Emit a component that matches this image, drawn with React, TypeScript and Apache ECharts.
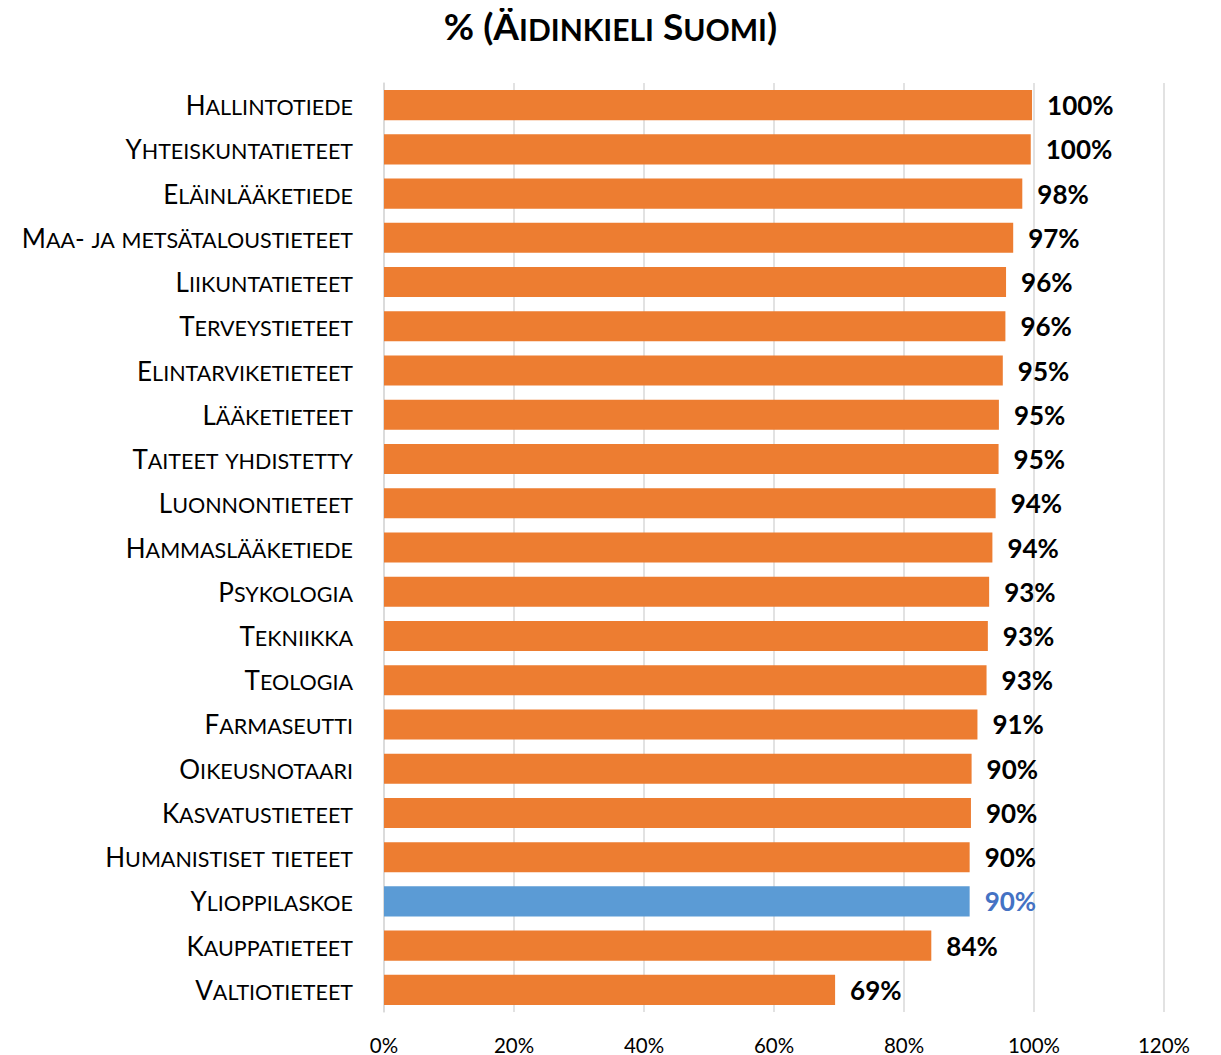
import React, { useEffect, useRef } from "react";
import * as echarts from "echarts";

const titleText = "% (Äidinkieli Suomi)";
const categories = [
  "Hallintotiede",
  "Yhteiskuntatieteet",
  "Eläinlääketiede",
  "Maa- ja metsätaloustieteet",
  "Liikuntatieteet",
  "Terveystieteet",
  "Elintarviketieteet",
  "Lääketieteet",
  "Taiteet yhdistetty",
  "Luonnontieteet",
  "Hammaslääketiede",
  "Psykologia",
  "Tekniikka",
  "Teologia",
  "Farmaseutti",
  "Oikeusnotaari",
  "Kasvatustieteet",
  "Humanistiset tieteet",
  "Ylioppilaskoe",
  "Kauppatieteet",
  "Valtiotieteet",
];
const values = [
  99.7, 99.5, 98.2, 96.8, 95.7, 95.6, 95.2, 94.6, 94.55, 94.1, 93.6, 93.1, 92.9,
  92.7, 91.3, 90.4, 90.3, 90.1, 90.1, 84.2, 69.4,
];
const highlightCategory = "Ylioppilaskoe";
const xTicks = [0, 20, 40, 60, 80, 100, 120];

const FONT = "Lato, 'Noto Sans', sans-serif";

function smallCaps(s: string, big: string, small: string): string {
  let out = "";
  let mode = "";
  let buf = "";
  const flush = () => {
    if (buf) out += `{${mode}|${buf}}`;
    buf = "";
  };
  for (const ch of s) {
    const isLower = ch !== ch.toUpperCase() && ch === ch.toLowerCase();
    const m = isLower ? small : big;
    if (m !== mode) {
      flush();
      mode = m;
    }
    buf += isLower ? ch.toUpperCase() : ch;
  }
  flush();
  return out;
}

export default function App() {
  const ref = useRef<HTMLDivElement>(null);
  useEffect(() => {
    if (!ref.current) return;
    const chart = echarts.init(ref.current, null, { renderer: "svg" });
    const data = categories.map((c, i) => {
      const hl = c === highlightCategory;
      return {
        value: values[i],
        itemStyle: { color: hl ? "#5B9BD5" : "#ED7D31" },
        label: { color: hl ? "#4472C4" : "#000000" },
      };
    });
    chart.setOption({
      animation: false,
      title: {
        text: smallCaps(titleText, "tb", "ts"),
        left: "center",
        top: 2,
        textStyle: {
          rich: {
            tb: { fontFamily: FONT, fontWeight: "bold", fontSize: 37, lineHeight: 37, verticalAlign: "bottom", color: "#000" },
            ts: { fontFamily: FONT, fontWeight: "bold", fontSize: 30, lineHeight: 30, verticalAlign: "bottom", color: "#000" },
          },
        },
      },
      grid: { left: 384, right: 57, top: 83, bottom: 42, containLabel: false },
      xAxis: {
        type: "value",
        min: xTicks[0],
        max: xTicks[xTicks.length - 1],
        interval: xTicks[1] - xTicks[0],
        axisLine: { show: false },
        axisTick: { show: false },
        splitLine: { show: true, lineStyle: { color: "#d9d9d9", width: 1.5 } },
        axisLabel: {
          formatter: "{value}%",
          fontFamily: FONT,
          fontSize: 20.5,
          color: "#000",
          margin: 22,
        },
      },
      yAxis: {
        type: "category",
        inverse: true,
        data: categories,
        axisLine: { show: true, lineStyle: { color: "#d9d9d9", width: 1.5 } },
        axisTick: { show: false },
        axisLabel: {
          margin: 31,
          formatter: (v: string) => smallCaps(v, "b", "s"),
          rich: {
            b: { fontFamily: FONT, fontSize: 26, lineHeight: 26, verticalAlign: "bottom", color: "#000" },
            s: { fontFamily: FONT, fontSize: 21.5, lineHeight: 21.5, verticalAlign: "bottom", color: "#000" },
          },
        },
      },
      series: [
        {
          type: "bar",
          data,
          barCategoryGap: "32%",
          label: {
            show: true,
            position: "right",
            distance: 15,
            fontFamily: FONT,
            fontWeight: "bold",
            fontSize: 26,
            formatter: (p: any) => Math.round(p.value) + "%",
          },
        },
      ],
    });
    return () => chart.dispose();
  }, []);
  return <div ref={ref} style={{ width: 1221, height: 1055, margin: "-8px 0 0 -8px" }} />;
}
